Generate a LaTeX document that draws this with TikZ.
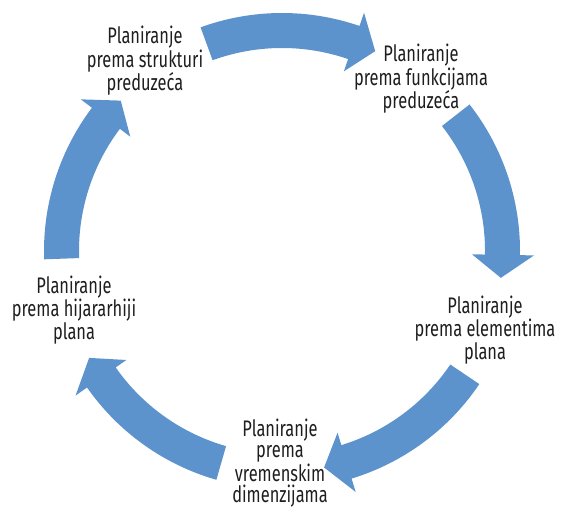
\documentclass[tikz,border=0pt]{standalone}
\usepackage{fontspec}
\setmainfont{Fira Sans}[FakeStretch=0.73]
\definecolor{cyclefill}{RGB}{93,147,205}
\definecolor{labeltext}{RGB}{30,30,30}
\begin{document}
\begin{tikzpicture}[x=1pt,y=1pt,
  cyclearrow/.style={fill=cyclefill,draw=none},
  stage/.style={align=center,text=labeltext,inner sep=0pt,
    font=\fontsize{22.5}{21.5}\selectfont}]
\useasboundingbox (0,0) rectangle (564,512);
% curved block arrow on the ring: #1 tail angle, #2 tip angle, #3 angle of the barbs
\newcommand\cyclearc[3]{%
  \fill[cyclearrow] (#1:238) arc[start angle=#1,end angle=#3,radius=238]
    -- (#3:252) -- (#2:220.5) -- (#3:190) -- (#3:203)
    arc[start angle=#3,end angle=#1,radius=203] -- cycle;}
\coordinate (hub) at (282,261);
\begin{scope}[shift={(hub)}]
  \cyclearc{110}{65}{71}
  \cyclearc{38}{-7}{-1}
  \cyclearc{-34}{-79}{-73}
  \cyclearc{-106}{-151}{-145}
  \cyclearc{182}{137}{143}
\end{scope}
\node[stage] (struct) at (145,451) {Planiranje\\prema strukturi\\preduzeća};
\node[stage] (funk) at (421,433) {Planiranje\\prema funkcijama\\preduzeća};
\node[stage] (elem) at (485,182) {Planiranje\\prema elementima\\plana};
\node[stage] (vrem) at (280,49) {Planiranje\\prema\\vremenskim\\dimenzijama};
\node[stage] (hijer) at (74,202) {Planiranje\\prema hijararhiji\\plana};
\end{tikzpicture}
\end{document}
